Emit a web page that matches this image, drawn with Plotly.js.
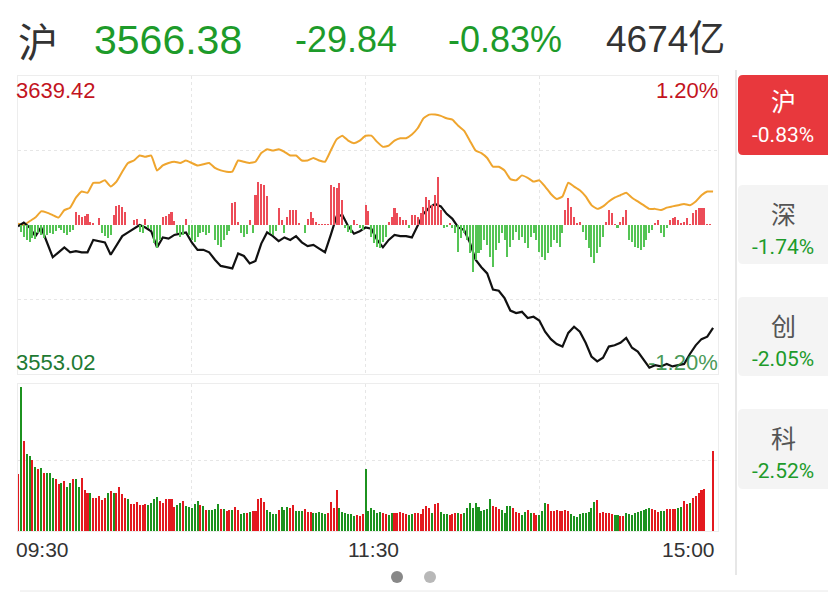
<!DOCTYPE html>
<html><head><meta charset="utf-8">
<script src="https://cdn.plot.ly/plotly-3.0.1.min.js"></script>
<style>html,body{margin:0;padding:0;background:#fff;}#chart{width:828px;height:600px;}</style>
</head><body><div id="chart"></div>
<script>
// ---------- header / labels ----------
const indexName = "沪";
const lastPrice = "3566.38";
const changePts = "-29.84";
const changePct = "-0.83%";
const turnover = "4674亿";
const priceTop = "3639.42", priceBottom = "3553.02";
const pctTop = "1.20%", pctBottom = "-1.20%";
const timeLabels = ["09:30", "11:30", "15:00"];
const timeTicks = [0, 120, 240];
const sideNames = ["沪", "深", "创", "科"];
const sidePcts = ["-0.83%", "-1.74%", "-2.05%", "-2.52%"];

// ---------- price lines (percent change vs previous close, sampled every 2 minutes) ----------
const indexPct = [
-0.01,0.02,-0.02,-0.09,-0.02,-0.14,-0.26,-0.22,-0.18,-0.22,
-0.21,-0.22,-0.22,-0.12,-0.13,-0.14,-0.24,-0.17,-0.09,-0.06,
-0.03,0.00,-0.02,-0.05,-0.18,-0.10,-0.11,-0.08,-0.07,-0.06,
-0.14,-0.20,-0.20,-0.22,-0.28,-0.33,-0.34,-0.35,-0.23,-0.25,
-0.31,-0.29,-0.15,-0.06,-0.09,-0.13,-0.10,-0.12,-0.09,-0.14,
-0.17,-0.16,-0.19,-0.22,-0.08,0.07,0.08,-0.01,-0.07,-0.05,
-0.02,-0.03,-0.12,-0.18,-0.12,-0.08,-0.09,-0.09,-0.10,0.00,
0.09,0.14,0.17,0.15,0.09,0.05,-0.02,-0.04,-0.14,-0.28,
-0.34,-0.39,-0.52,-0.53,-0.59,-0.69,-0.71,-0.70,-0.75,-0.74,
-0.77,-0.86,-0.92,-0.96,-0.98,-0.87,-0.82,-0.86,-0.95,-1.06,
-1.10,-1.07,-0.98,-0.97,-0.95,-0.91,-0.99,-1.02,-1.09,-1.15,
-1.13,-1.14,-1.12,-1.14,-1.13,-1.12,-1.04,-0.97,-0.92,-0.90,
-0.83];
const leadPct = [
0.01,0.00,0.03,0.06,0.11,0.10,0.08,0.06,0.12,0.14,
0.22,0.27,0.26,0.34,0.34,0.36,0.31,0.35,0.43,0.50,
0.52,0.56,0.55,0.56,0.44,0.48,0.50,0.51,0.50,0.52,
0.50,0.48,0.49,0.50,0.46,0.44,0.43,0.43,0.52,0.51,
0.50,0.51,0.58,0.61,0.60,0.61,0.59,0.56,0.56,0.52,
0.52,0.54,0.52,0.51,0.60,0.69,0.72,0.68,0.66,0.68,
0.72,0.72,0.67,0.63,0.64,0.68,0.70,0.70,0.73,0.78,
0.86,0.89,0.89,0.88,0.86,0.85,0.80,0.76,0.68,0.60,
0.58,0.54,0.47,0.47,0.44,0.37,0.36,0.40,0.38,0.35,
0.36,0.31,0.25,0.21,0.23,0.34,0.31,0.28,0.23,0.16,
0.13,0.15,0.19,0.22,0.24,0.26,0.22,0.19,0.16,0.13,
0.13,0.12,0.14,0.15,0.16,0.17,0.16,0.19,0.24,0.27,
0.27];

// ---------- buy/sell strength bars (per minute) ----------
const strength = [
0,-7,-12,-15,-17,-13,-14,-8,-10,-13,
-10,-8,-9,-6,-3,-5,-8,-10,-7,-5,
13,10,8,9,11,3,2,0,7,-8,
-11,-13,-10,10,19,20,18,13,0,0,
5,6,-7,-8,6,-3,-5,-18,-23,-15,
8,9,11,13,4,-8,-12,-10,6,-10,
-15,-17,-12,-8,-7,-10,-8,0,-15,-20,
-22,-15,-10,-6,22,23,3,-8,-12,-9,
5,-8,30,43,41,40,29,-8,-10,-6,
17,5,-8,8,15,15,15,2,0,-8,
6,13,7,3,1,1,1,1,40,38,
37,42,25,-3,-7,-8,5,1,-3,-5,
20,14,-12,-18,-22,-23,-17,-12,3,8,
17,12,8,5,5,-3,10,10,8,12,
18,28,25,20,30,48,15,-3,-2,2,
-3,-8,-27,-13,-8,-15,-28,-47,-35,-28,
-25,-15,-20,-32,-42,-25,-18,-8,-15,-32,
-22,-15,-7,-15,-12,-18,-23,-12,-8,-15,
-27,-32,-35,-28,-22,-15,-18,-22,-8,15,
27,18,8,2,3,-7,-15,-23,-32,-38,
-28,-22,-12,3,15,12,1,-3,3,8,
15,-15,-17,-22,-23,-25,-22,-15,-8,-5,
2,5,-8,-12,-3,5,7,8,5,2,
3,7,1,12,15,17,17,17,1,1,0];

// ---------- volume (per minute) and direction ----------
const volume = [
57,144,90,77,75,71,64,62,63,58,
58,58,53,52,47,48,50,44,48,52,
52,44,53,41,38,38,33,33,35,31,
33,38,40,38,38,44,37,33,32,27,
27,29,26,26,27,26,28,32,34,30,
28,32,32,32,24,26,28,30,25,24,
23,27,30,26,25,21,21,21,22,27,
22,22,20,21,21,24,21,17,18,18,
19,20,20,32,33,29,21,19,17,17,
21,24,21,24,23,26,20,20,20,22,
19,19,18,18,19,18,17,18,29,23,
41,23,19,18,17,17,15,16,15,17,
62,
20,23,21,18,19,18,17,16,18,18,18,
19,18,17,16,17,18,18,17,
22,25,23,18,27,28,19,17,17,16,
17,18,18,17,18,23,28,23,28,24,
20,21,22,32,25,24,22,21,18,25,
25,23,19,18,16,19,21,18,18,16,
16,20,28,27,20,20,21,20,20,21,
20,17,15,14,17,18,18,19,23,29,
31,18,19,18,18,17,16,16,15,15,
18,17,16,18,19,20,21,22,23,22,
21,19,20,20,22,22,22,22,23,24,
30,27,28,33,35,38,41,42,0,0,
80];
const volumeDir = (
"rgrggrgrgr"+"gggrrgrggr"+"ggrrrgrrrr"+"rgrgrrrrgr"+"rrrrrggggr"+"rrrrrggrgg"+
"gggrgrgggg"+"rgrrgrrggr"+"grrrrrgggg"+"rgggrrgggr"+"rrgggggrrr"+"rggggggrrr"+
"g"+"gggggrrggrr"+"rrrggrrr"+
"rrrgrrgggr"+"rrgrgggggg"+"ggggrrrggg"+"grrrggrgrr"+"gggrrrrrrr"+
"rggggggggg"+"rrrrrrggrr"+"gggggggggr"+"rrggrrrrgg"+"rrgrrrrrrr"+"r").split("");

// ---------- build ----------
const W = 828, H = 600;
const X = p => p / W, Y = p => 1 - p / H;
const minutes = strength.map((_, i) => i);
const minutes2 = indexPct.map((_, i) => i * 2);

const red = "#e3191f", green = "#1c921f";
const traces = [
  {type: "bar", x: minutes, y: strength, xaxis: "x", yaxis: "y2", width: 0.7,
   marker: {color: strength.map(v => v >= 0 ? "#ec4c58" : "#55c455"), line: {width: 0}}, hoverinfo: "skip"},
  {type: "scatter", mode: "lines", x: minutes2, y: leadPct, xaxis: "x", yaxis: "y",
   line: {color: "#efa52e", width: 2, shape: "spline", smoothing: 0.4}},
  {type: "scatter", mode: "lines", x: minutes2, y: indexPct, xaxis: "x", yaxis: "y",
   line: {color: "#111111", width: 2.2}},
  {type: "bar", x: minutes, y: volume, xaxis: "x2", yaxis: "y3", width: 0.7,
   marker: {color: volumeDir.map(d => d === "r" ? red : green), line: {width: 0}}}
];

const gridC = "#e6e6e6", borderC = "#ededed";
const xCommon = {domain: [X(18), X(718)], range: [0, 241.7], showgrid: true, gridcolor: gridC, griddash: "dot",
  tickvals: [60, 120, 180], showticklabels: false, zeroline: false, showline: true, mirror: true,
  linecolor: borderC, linewidth: 1, ticks: "", fixedrange: true};
const layout = {
  width: W, height: H, margin: {l: 0, r: 0, t: 0, b: 0}, paper_bgcolor: "#fff", plot_bgcolor: "#fff",
  showlegend: false, bargap: 0,
  xaxis: Object.assign({anchor: "y"}, xCommon),
  xaxis2: Object.assign({anchor: "y3"}, xCommon),
  yaxis: {domain: [Y(374), Y(76)], range: [-1.2012, 1.2012], tickvals: [-0.6, 0.6], showticklabels: false,
    gridcolor: gridC, griddash: "dot", zeroline: false, showline: true, mirror: true, linecolor: borderC, ticks: ""},
  yaxis2: {overlaying: "y", range: [-149, 149], visible: false},
  yaxis3: {domain: [Y(531), Y(384)], range: [0, 147], tickvals: [71], showticklabels: false,
    gridcolor: gridC, griddash: "dot", zeroline: false, showline: true, mirror: true, linecolor: borderC, ticks: ""},
  annotations: [], shapes: []
};
const A = (text, px, py, o) => layout.annotations.push(Object.assign({
  text: text, x: X(px), y: Y(py), xref: "paper", yref: "paper", showarrow: false,
  xanchor: "left", yanchor: "middle", font: {family: "Liberation Sans, Arial, sans-serif", size: 20, color: "#333"}}, o || {}));

const hdrGreen = "#1d9b2a";
A(indexName, 16, 40, {font: {family: "Noto Sans CJK SC", size: 40, color: "#333"}});
A(lastPrice, 92, 40, {font: {family: "Liberation Sans", size: 41, color: hdrGreen}});
A(changePts, 293, 40, {font: {family: "Liberation Sans", size: 36, color: hdrGreen}});
A(changePct, 446, 40, {font: {family: "Liberation Sans", size: 36, color: hdrGreen}});
A(turnover, 604, 40, {font: {family: "Liberation Sans, Noto Sans CJK SC", size: 37, color: "#333"}});

A(priceTop, 14, 90, {font: {family: "Liberation Sans", size: 22, color: "#c3141e"}});
A(pctTop, 720, 90, {xanchor: "right", font: {family: "Liberation Sans", size: 22, color: "#c3141e"}});
A(priceBottom, 14, 362, {font: {family: "Liberation Sans", size: 22, color: "#1e7a32"}});
A(pctBottom, 720, 362, {xanchor: "right", opacity: 0.85, font: {family: "Liberation Sans", size: 22, color: "#2b8a3c"}});

timeLabels.forEach((t, i) => layout.annotations.push({text: t, x: timeTicks[i], xref: "x2", y: Y(549), yref: "paper",
  showarrow: false, yanchor: "middle", xanchor: i === 0 ? "left" : (i === 2 ? "right" : "center"),
  xshift: i === 0 ? -4 : (i === 2 ? 4 : 8), font: {family: "Liberation Sans", size: 21, color: "#333"}}));

// side panel
const rr = (x0, y0, x1, y1, r) => `M ${X(x1)},${Y(y0)} L ${X(x0 + r)},${Y(y0)} Q ${X(x0)},${Y(y0)} ${X(x0)},${Y(y0 + r)} ` +
  `L ${X(x0)},${Y(y1 - r)} Q ${X(x0)},${Y(y1)} ${X(x0 + r)},${Y(y1)} L ${X(x1)},${Y(y1)} Z`;
layout.shapes.push({type: "line", xref: "paper", yref: "paper", x0: X(736), x1: X(736), y0: Y(70), y1: Y(575), line: {color: "#cfcfcf", width: 1}});
layout.shapes.push({type: "line", xref: "paper", yref: "paper", x0: X(20), x1: X(828), y0: Y(591), y1: Y(591), line: {color: "#e8e8e8", width: 1}});
const boxes = [[75, 155], [185, 264], [297, 376], [409, 489]];
boxes.forEach((b, i) => {
  layout.shapes.push({type: "path", xref: "paper", yref: "paper", path: rr(738, b[0], 828, b[1], 5),
    fillcolor: i === 0 ? "#e8383d" : "#f4f4f4", line: {width: 0}});
  const off = i === 0 ? [25, 60] : [28, 62];
  A(sideNames[i], 783, b[0] + off[0], {xanchor: "center", font: {family: "Noto Sans CJK SC", size: 25, color: i === 0 ? "#fff" : "#555"}});
  A(sidePcts[i], 783, b[0] + off[1], {xanchor: "center", font: {family: "Roboto, sans-serif", size: 21, color: i === 0 ? "#fff" : hdrGreen}});
});
// page dots
[[397, "#888888"], [430, "#b8b8b8"]].forEach(d => layout.shapes.push({type: "circle", xref: "paper", yref: "paper",
  x0: X(d[0] - 6), x1: X(d[0] + 6), y0: Y(583), y1: Y(571), fillcolor: d[1], line: {width: 0}}));

Plotly.newPlot("chart", traces, layout, {staticPlot: true, displayModeBar: false});
</script></body></html>
